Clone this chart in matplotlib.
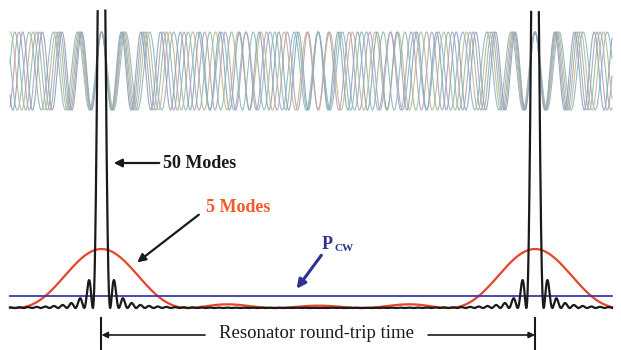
import numpy as np
import matplotlib.pyplot as plt

# mode-locking sketch: time axis in units of the round-trip time T
mode_counts = [5, 50]              # number of locked modes per curve
intensity_scale = [1.0, 0.1]       # 50-mode curve drawn at 1/10 so both have equal average power
curve_colors = ['#e8442a', '#1a1a1a']
field_modes = [18, 19, 20, 21, 22]   # frequencies (cycles per T) of the drawn fields
field_colors = ['#8fb9d2', '#c9b98f', '#93bfb0', '#b9a3bd', '#8fa9b8']
labels = ['5 Modes', '50 Modes']
cw_label = 'P'
bottom_label = 'Resonator round-trip time'

# pixel layout helpers (figure is 621 x 350 px)
X0, TPX = 101.5, 433.5      # pixel x of first pulse, pixels per round trip
Y0, YPX = 308.0, 2.36       # pixel y of baseline (from top), pixels per intensity unit
def tx(px): return (px - X0) / TPX
def iy(py): return (Y0 - py) / YPX

fig = plt.figure(figsize=(6.21, 3.5), dpi=100)
ax = fig.add_axes([0, 0, 1, 1])
ax.set_xlim(tx(0), tx(621))
ax.set_ylim(iy(350), iy(0))
ax.axis('off')

t = np.linspace(tx(10), tx(612), 30000)

# optical fields at the top
center, amp = iy(71), iy(32) - iy(71)
for n, c in zip(field_modes, field_colors):
    ax.plot(t, center + amp * np.cos(2 * np.pi * n * t), color=c, lw=0.8, alpha=0.95)

# intensity of N locked modes
def intensity(N, tt):
    s = np.sin(np.pi * tt)
    out = np.full_like(tt, float(N * N))
    ok = np.abs(s) > 1e-9
    out[ok] = (np.sin(N * np.pi * tt[ok]) / s[ok]) ** 2
    return out

top = iy(10)
for N, k, c in zip(mode_counts, intensity_scale, curve_colors):
    I = k * intensity(N, t)
    I[I > top] = np.nan
    if N == 5:
        ax.plot(t, I, color=c, lw=1.6, zorder=3)
        # CW level = average power
        ax.axhline(N * k, xmin=10 / 621, xmax=612 / 621, color='#3b3ba8', lw=1.3, zorder=4)
    else:
        ax.plot(t, I, color=c, lw=1.6, zorder=5)

serif = 'Liberation Serif'
ax.text(tx(163), iy(163), labels[1], fontsize=13, fontweight='bold', family=serif,
        color='#1a1a1a', va='center', ha='left')
ax.annotate('', xy=(tx(111), iy(163)), xytext=(tx(162), iy(163)),
            arrowprops=dict(arrowstyle='-|>', color='#1a1a1a', lw=1.6, mutation_scale=12))

ax.text(tx(206), iy(208), labels[0], fontsize=13, fontweight='bold', family=serif,
        color='#f15a29', va='center', ha='left')
ax.annotate('', xy=(tx(135), iy(264)), xytext=(tx(201), iy(213)),
            arrowprops=dict(arrowstyle='-|>', color='#1a1a1a', lw=1.6, mutation_scale=12))

ax.text(tx(322), iy(249), cw_label, fontsize=13, fontweight='bold', family=serif,
        color='#2e3192', va='baseline', ha='left')
ax.text(tx(335), iy(251), 'CW', fontsize=8, fontweight='bold', family=serif,
        color='#2e3192', va='baseline', ha='left')
ax.annotate('', xy=(tx(295), iy(291)), xytext=(tx(323), iy(253)),
            arrowprops=dict(arrowstyle='-|>', color='#2e3192', lw=2.2, mutation_scale=13))

# round-trip marker
for xb in (0.0, 1.0):
    ax.plot([xb, xb], [iy(318), iy(350)], color='#1a1a1a', lw=1.5)
ax.annotate('', xy=(0.0, iy(335)), xytext=(tx(205), iy(335)),
            arrowprops=dict(arrowstyle='-|>', color='#1a1a1a', lw=1.2, mutation_scale=9,
                            shrinkA=0, shrinkB=0))
ax.annotate('', xy=(1.0, iy(335)), xytext=(tx(428), iy(335)),
            arrowprops=dict(arrowstyle='-|>', color='#1a1a1a', lw=1.2, mutation_scale=9,
                            shrinkA=0, shrinkB=0))
ax.text(tx(317), iy(334), bottom_label, fontsize=13.5, family=serif, color='#1a1a1a',
        va='center', ha='center')

fig.savefig('out.png', dpi=100)
